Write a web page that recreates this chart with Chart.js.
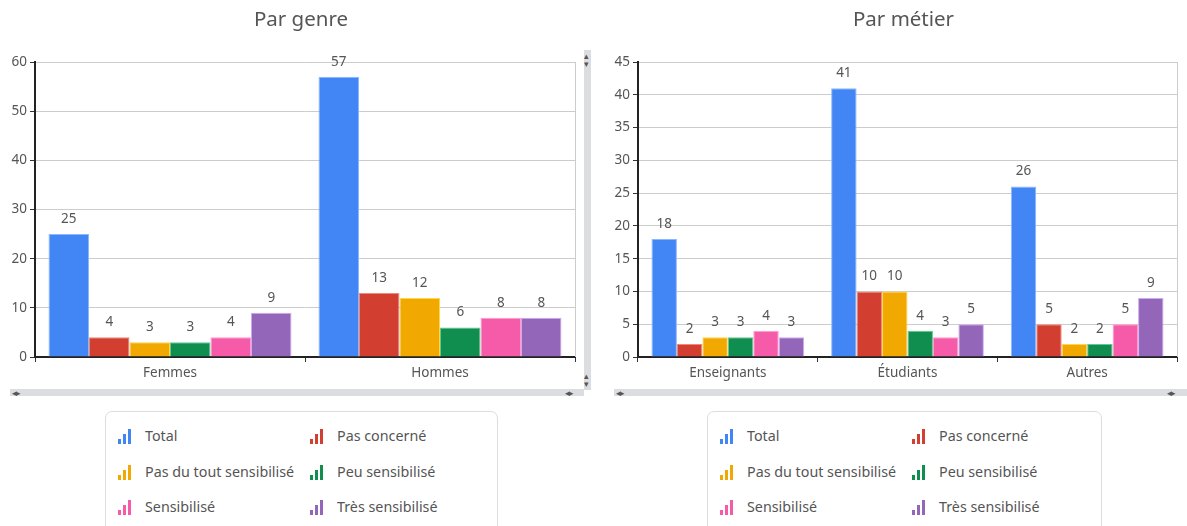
<!DOCTYPE html>
<html>
<head>
<meta charset="utf-8">
<script src="https://cdn.jsdelivr.net/npm/chart.js@4"></script>
<style>
  body { margin: 0; background: #fff; font-family: "Noto Sans", sans-serif; width: 1187px; height: 526px; overflow: hidden; position: relative; }
  .box { position: absolute; }
  .hbar { position: absolute; height: 7px; background: #dcdde0; }
  .vbar { position: absolute; width: 7px; background: #dcdde0; }
  .arr { position: absolute; font-size: 9px; line-height: 8px; color: #555; letter-spacing: -1px; }
  .legend { position: absolute; top: 411px; height: 140px; border: 1px solid #ddd; border-radius: 7px; box-sizing: border-box; }
  .item { position: absolute; font-size: 14.3px; color: #555; white-space: nowrap; height: 20px; line-height: 20px; }
  .icon { position: absolute; left: 0; top: 3px; width: 14px; height: 15px; }
  .icon span { position: absolute; bottom: 0; width: 3px; }
</style>
</head>
<body>
<div class="box" style="left:0;top:0;width:580px;height:390px"><canvas id="genre"></canvas></div>
<div class="box" style="left:600px;top:0;width:587px;height:390px"><canvas id="metier"></canvas></div>

<div class="hbar" style="left:10px;top:389px;width:574px"></div>
<div class="arr" style="left:12px;top:389px">◂▸</div>
<div class="arr" style="left:565px;top:389px">◂▸</div>
<div class="vbar" style="left:584px;top:50px;height:340px"></div>
<div class="arr" style="left:584px;top:52px">▴<br>▾</div>
<div class="arr" style="left:584px;top:372px">▴<br>▾</div>
<div class="hbar" style="left:614px;top:389px;width:573px"></div>
<div class="arr" style="left:616px;top:389px">◂▸</div>
<div class="arr" style="left:1167px;top:389px">◂▸</div>

<div class="legend" id="legGenre" style="left:105px;width:393px"></div>
<div class="legend" id="legMetier" style="left:707px;width:395px"></div>

<script>
// series names and colours
const seriesNames = ["Total", "Pas concerné", "Pas du tout sensibilisé", "Peu sensibilisé", "Sensibilisé", "Très sensibilisé"];
const seriesColors = ["#4285f4", "#d23f31", "#f1a800", "#0f8e4f", "#f65ba9", "#9366b9"];
const borderColors = ["#8ab8ff", "#f08878", "#ffd54a", "#60c890", "#ff9ccc", "#d0a8f0"];

// Par genre
const genreLabels = ["Femmes", "Hommes"];
const genreTotal = [25, 57];
const genrePasConcerne = [4, 13];
const genrePasDuTout = [3, 12];
const genrePeu = [3, 6];
const genreSensibilise = [4, 8];
const genreTres = [9, 8];

// Par métier
const metierLabels = ["Enseignants", "Étudiants", "Autres"];
const metierTotal = [18, 41, 26];
const metierPasConcerne = [2, 10, 5];
const metierPasDuTout = [3, 10, 2];
const metierPeu = [3, 4, 2];
const metierSensibilise = [4, 3, 5];
const metierTres = [3, 5, 9];

const textColor = "#555";
const fontFamily = "'Noto Sans', sans-serif";

// title, values above the bars and the light right border
const decorations = {
  id: "decorations",
  beforeDatasetsDraw(chart) {
    const ctx = chart.ctx, a = chart.chartArea;
    ctx.save();
    ctx.strokeStyle = "#ccc";
    ctx.lineWidth = 1;
    ctx.beginPath();
    ctx.moveTo(Math.round(a.right) + 0.5, a.top);
    ctx.lineTo(Math.round(a.right) + 0.5, a.bottom);
    ctx.stroke();
    ctx.restore();
  },
  afterDatasetsDraw(chart) {
    const ctx = chart.ctx, a = chart.chartArea;
    ctx.save();
    ctx.fillStyle = textColor;
    ctx.textAlign = "center";
    ctx.textBaseline = "middle";
    ctx.font = "20.5px " + fontFamily;
    ctx.fillText(chart.options.chartTitle, (a.left + a.right) / 2 - 4, 20);
    ctx.font = "13.5px " + fontFamily;
    chart.data.datasets.forEach((ds, i) => {
      chart.getDatasetMeta(i).data.forEach((bar, j) => {
        ctx.fillText(ds.data[j], bar.x, bar.y - 15);
      });
    });
    ctx.restore();
  }
};

function makeChart(id, title, labels, values, yMax, yStep, yWidth, padRight, catPct) {
  const datasets = values.map((v, i) => ({
    label: seriesNames[i],
    data: v,
    backgroundColor: seriesColors[i],
    borderColor: borderColors[i],
    borderWidth: 1,
    barPercentage: 1,
    categoryPercentage: catPct
  }));
  return new Chart(document.getElementById(id), {
    type: "bar",
    data: { labels: labels, datasets: datasets },
    plugins: [decorations],
    options: {
      chartTitle: title,
      responsive: true,
      maintainAspectRatio: false,
      animation: false,
      layout: { padding: { left: 0, right: padRight, top: 62, bottom: 0 } },
      plugins: {
        legend: { display: false },
        tooltip: { enabled: false },
        title: { display: false }
      },
      scales: {
        x: {
          grid: { offset: true, drawOnChartArea: false, tickLength: 5, tickColor: "#333" },
          border: { color: "#222", width: 2 },
          ticks: { color: textColor, font: { family: fontFamily, size: 13.5 }, padding: 3 },
          afterFit(scale) { scale.height = 33; }
        },
        y: {
          min: 0,
          max: yMax,
          ticks: { stepSize: yStep, color: textColor, font: { family: fontFamily, size: 13.5 }, padding: 3 },
          grid: { color: "#ccc", tickLength: 5, tickColor: "#333" },
          border: { color: "#222", width: 2 },
          afterFit(scale) { scale.width = yWidth; }
        }
      }
    }
  });
}

makeChart("genre", "Par genre", genreLabels,
  [genreTotal, genrePasConcerne, genrePasDuTout, genrePeu, genreSensibilise, genreTres],
  60, 10, 35, 5, 0.9);
makeChart("metier", "Par métier", metierLabels,
  [metierTotal, metierPasConcerne, metierPasDuTout, metierPeu, metierSensibilise, metierTres],
  45, 5, 38, 10, 0.85);

// HTML legend with small bar icons
function buildLegend(id, col2) {
  const el = document.getElementById(id);
  seriesNames.forEach((name, i) => {
    const item = document.createElement("div");
    item.className = "item";
    item.style.left = (i % 2 === 0 ? 12 : col2) + "px";
    item.style.top = (14 + Math.floor(i / 2) * 35.5) + "px";
    item.style.paddingLeft = "27px";
    const icon = document.createElement("span");
    icon.className = "icon";
    [5, 10, 15].forEach((h, k) => {
      const b = document.createElement("span");
      b.style.left = (k * 5) + "px";
      b.style.height = h + "px";
      b.style.background = seriesColors[i];
      icon.appendChild(b);
    });
    item.appendChild(icon);
    item.appendChild(document.createTextNode(name));
    el.appendChild(item);
  });
}
buildLegend("legGenre", 204);
buildLegend("legMetier", 204);
</script>
</body>
</html>
